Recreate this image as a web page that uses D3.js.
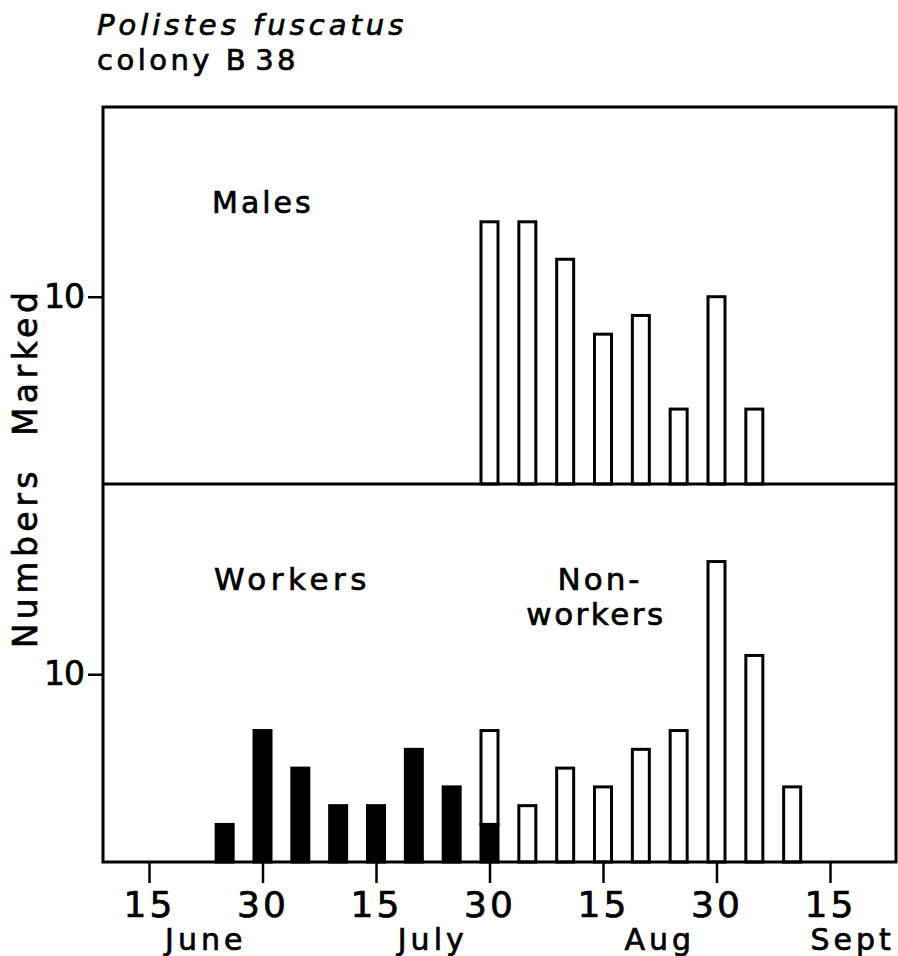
<!DOCTYPE html>
<html>
<head>
<meta charset="utf-8">
<script src="https://cdn.jsdelivr.net/npm/d3@7"></script>
<style>
  html, body { margin: 0; padding: 0; background: #fff; }
  svg { display: block; }
  text { font-family: "DejaVu Sans", sans-serif; fill: #000; stroke: #000; stroke-width: 0.7px; }
</style>
</head>
<body>
<svg id="chart" width="898" height="956"></svg>
<script>
// Sampling dates, counted in days after June 15 (each half-month taken as 15 days)
const sampleDay = [10, 15, 20, 25, 30, 35, 40, 45, 50, 55, 60, 65, 70, 75, 80, 85];

// Counts of newly marked wasps at each sampling date
const males      = [0, 0, 0, 0, 0, 0, 0, 14, 14, 12, 8, 9, 4, 10, 4, 0];
const workers    = [2, 7, 5, 3, 3, 6, 4, 2, 0, 0, 0, 0, 0, 0, 0, 0];
const nonworkers = [0, 0, 0, 0, 0, 0, 0, 5, 3, 5, 4, 6, 7, 16, 11, 4];

// Date axis
const tickDays   = [0, 15, 30, 45, 60, 75, 90];
const tickLabels = ["15", "30", "15", "30", "15", "30", "15"];
const monthNames = ["June", "July", "Aug", "Sept"];
const monthDays  = [7.5, 37.5, 67.5, 93];

// Count axis
const countTicks = [10];

const svg = d3.select("#chart");

const frame = { left: 103, right: 896, top: 107, mid: 484, bottom: 862 };
const yMax = 20.13;

const x = d3.scaleLinear().domain([0, 90]).range([149, 830]);
const yTop = d3.scaleLinear().domain([0, yMax]).range([frame.mid, frame.top]);
const yBot = d3.scaleLinear().domain([0, yMax]).range([frame.bottom, frame.mid]);

const barW = 17;

// Title
const title = svg.append("g");
title.append("text")
  .attr("x", 97).attr("y", 35)
  .style("font-size", "29px").style("font-style", "italic")
  .style("letter-spacing", "4px")
  .text("Polistes fuscatus");
const t2 = title.append("text")
  .attr("x", 97).attr("y", 70)
  .style("font-size", "29px").style("letter-spacing", "3.5px");
t2.append("tspan").text("colony B");
t2.append("tspan").attr("dx", 6).text("38");

// Males panel
svg.append("g").selectAll("rect")
  .data(sampleDay.map((d, i) => ({ d, v: males[i] })).filter(e => e.v > 0))
  .join("rect")
  .attr("x", e => x(e.d) - barW / 2)
  .attr("y", e => yTop(e.v))
  .attr("width", barW)
  .attr("height", e => yTop(0) - yTop(e.v))
  .attr("fill", "#fff").attr("stroke", "#000").attr("stroke-width", 3);

// Workers (filled) with non-workers stacked above (open)
const lower = sampleDay.map((d, i) => ({ d, w: workers[i], n: nonworkers[i] }));

svg.append("g").selectAll("rect")
  .data(lower.filter(e => e.n > 0))
  .join("rect")
  .attr("x", e => x(e.d) - barW / 2)
  .attr("y", e => yBot(e.w + e.n))
  .attr("width", barW)
  .attr("height", e => yBot(e.w) - yBot(e.w + e.n))
  .attr("fill", "#fff").attr("stroke", "#000").attr("stroke-width", 3);

svg.append("g").selectAll("rect")
  .data(lower.filter(e => e.w > 0))
  .join("rect")
  .attr("x", e => x(e.d) - barW / 2)
  .attr("y", e => yBot(e.w))
  .attr("width", barW)
  .attr("height", e => yBot(0) - yBot(e.w))
  .attr("fill", "#000").attr("stroke", "#000").attr("stroke-width", 3);

// Frame and panel divider
svg.append("rect")
  .attr("x", frame.left).attr("y", frame.top)
  .attr("width", frame.right - frame.left)
  .attr("height", frame.bottom - frame.top)
  .attr("fill", "none").attr("stroke", "#000").attr("stroke-width", 3);
svg.append("line")
  .attr("x1", frame.left).attr("x2", frame.right)
  .attr("y1", frame.mid).attr("y2", frame.mid)
  .attr("stroke", "#000").attr("stroke-width", 3);

// Count axes
function styleAxis(g) {
  g.select(".domain").remove();
  g.selectAll(".tick line").attr("stroke", "#000").attr("stroke-width", 2.5);
  g.selectAll(".tick text").attr("fill", "#000").style("font-family", "DejaVu Sans, sans-serif");
}
[yTop, yBot].forEach(ys => {
  svg.append("g")
    .attr("transform", `translate(${frame.left},0)`)
    .call(d3.axisLeft(ys).tickValues(countTicks).tickSize(15).tickPadding(4).tickFormat(d3.format("d")))
    .call(styleAxis)
    .call(g => g.selectAll(".tick text").style("font-size", "33px").style("letter-spacing", "-1px"));
});

// Date axis
svg.append("g")
  .attr("transform", `translate(0,${frame.bottom})`)
  .call(d3.axisBottom(x).tickValues(tickDays).tickSize(21).tickFormat((d, i) => tickLabels[i]))
  .call(styleAxis)
  .call(g => g.selectAll(".tick text")
    .attr("y", 55).attr("dy", null)
    .style("font-size", "36px").style("letter-spacing", "3px"));

svg.append("g").selectAll("text")
  .data(monthNames)
  .join("text")
  .attr("x", (m, i) => x(monthDays[i]))
  .attr("y", 950)
  .attr("text-anchor", "middle")
  .style("font-size", "30px").style("letter-spacing", "4px")
  .text(m => m);

// Axis title
svg.append("text")
  .attr("transform", "translate(37,468) rotate(-90)")
  .attr("text-anchor", "middle")
  .style("font-size", "33px").style("letter-spacing", "4.5px").style("word-spacing", "16px")
  .text("Numbers Marked");

// Panel labels
svg.append("text").attr("x", 212).attr("y", 213)
  .style("font-size", "30px").style("letter-spacing", "3px").text("Males");
svg.append("text").attr("x", 214).attr("y", 590)
  .style("font-size", "31px").style("letter-spacing", "4.5px").text("Workers");
svg.append("text").attr("x", 600).attr("y", 590).attr("text-anchor", "middle")
  .style("font-size", "31px").style("letter-spacing", "3px").text("Non-");
svg.append("text").attr("x", 596).attr("y", 625).attr("text-anchor", "middle")
  .style("font-size", "31px").style("letter-spacing", "2.5px").text("workers");
</script>
</body>
</html>
